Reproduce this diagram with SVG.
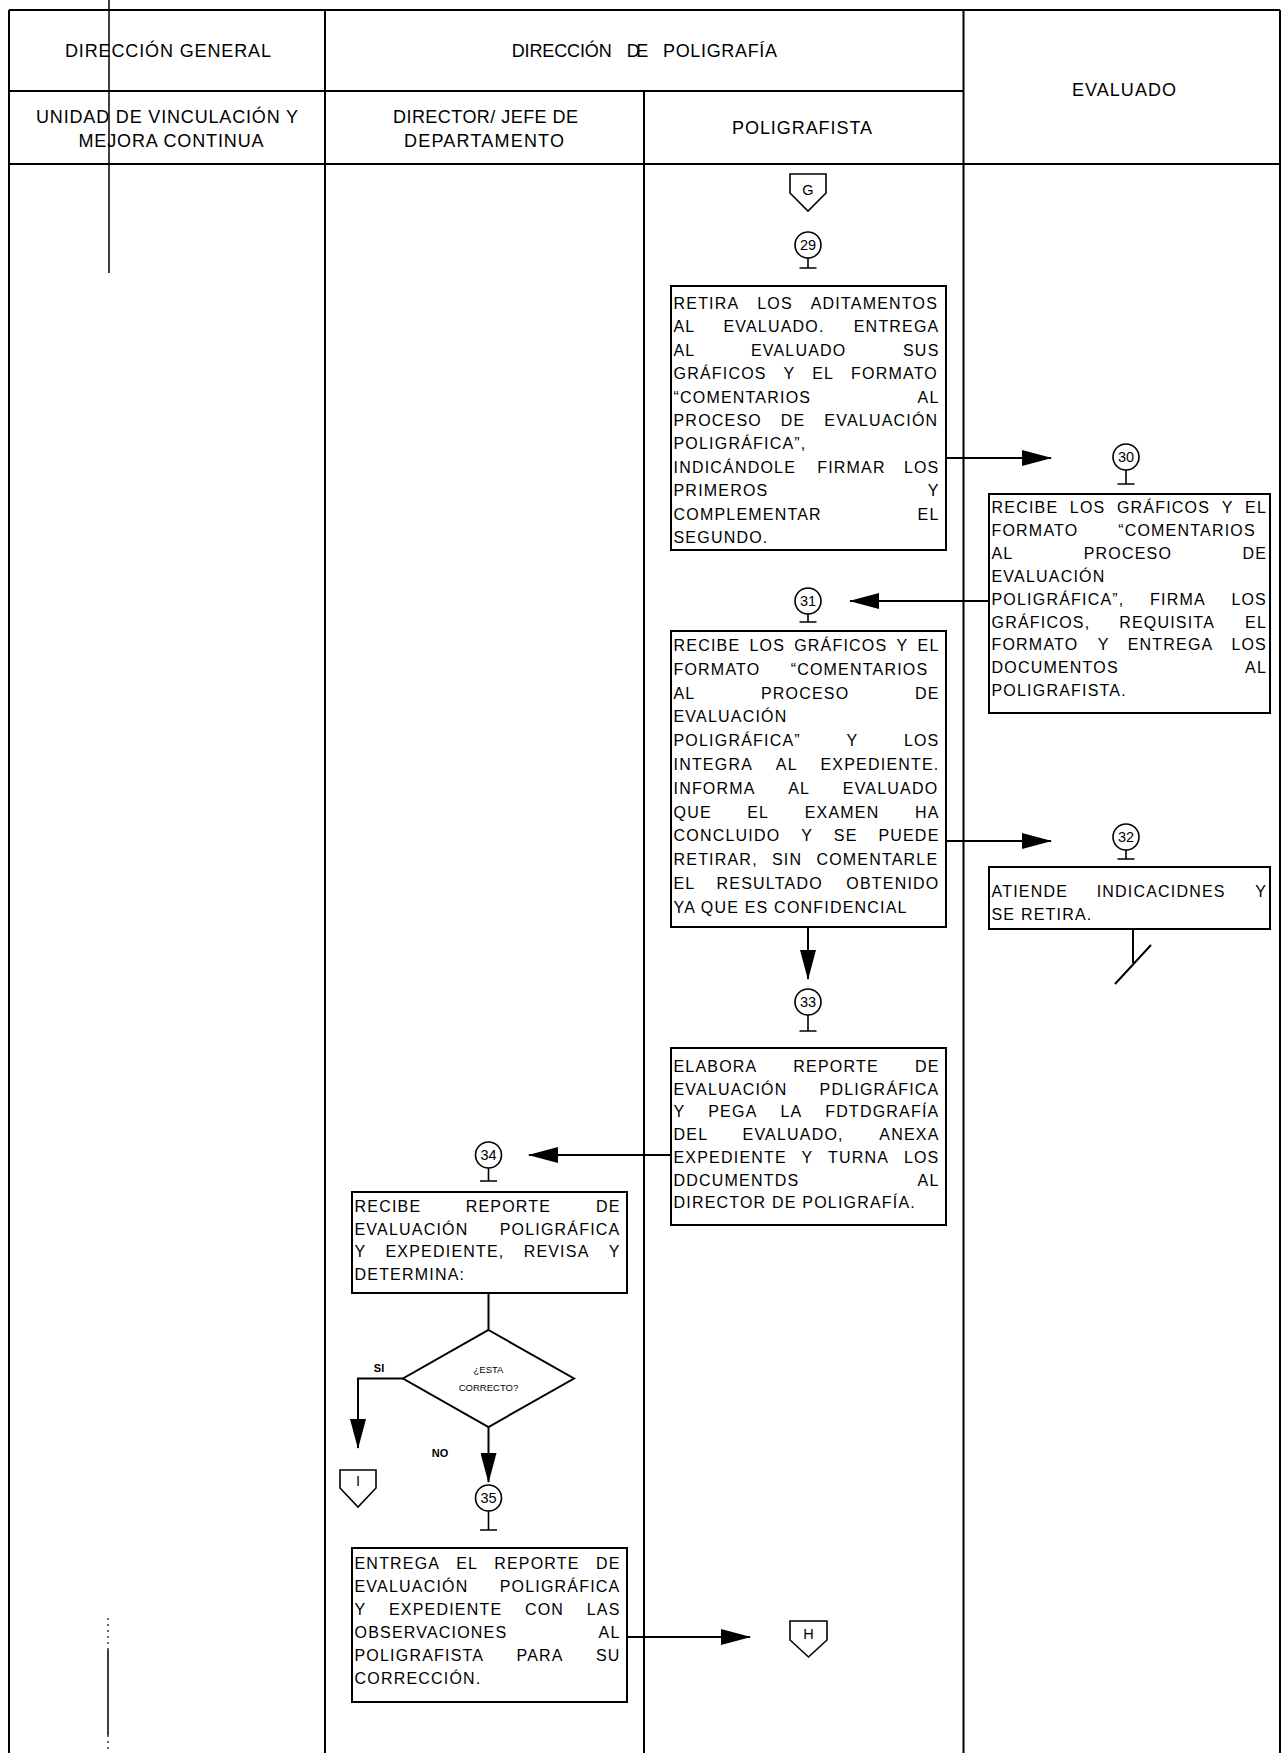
<svg xmlns="http://www.w3.org/2000/svg" width="1282" height="1753" viewBox="0 0 1282 1753">
<defs>
<marker id="ah" markerUnits="userSpaceOnUse" markerWidth="30" markerHeight="16" refX="29" refY="8" orient="auto"><path d="M0,0 L30,8 L0,16 Z" fill="#000"/></marker>
<style>
.t{font-family:'Liberation Sans',Arial,sans-serif;font-size:16px;letter-spacing:1.2px;fill:#000}
.h{font-family:'Liberation Sans',Arial,sans-serif;font-size:18px;fill:#000;text-anchor:middle}
.n{font-family:'Liberation Sans',Arial,sans-serif;font-size:14.5px;fill:#000;text-anchor:middle}
.s{font-family:'Liberation Sans',Arial,sans-serif;font-size:9.5px;fill:#000;text-anchor:middle}
.lb{font-family:'Liberation Sans',Arial,sans-serif;font-size:11px;font-weight:bold;fill:#000;text-anchor:middle}
.box{fill:#fff;stroke:#000;stroke-width:2}
.ln{stroke:#000;stroke-width:2;fill:none}
.thin{stroke:#000;stroke-width:1.6;fill:none}
.c{fill:#fff;stroke:#000;stroke-width:1.6}
</style>
</defs>
<rect x="0" y="0" width="1282" height="1753" fill="#fff"/>

<g id="grid" class="ln">
<line x1="9" y1="10" x2="1280" y2="10"/>
<line x1="9" y1="10" x2="9" y2="1753"/>
<line x1="1280" y1="10" x2="1280" y2="1753"/>
<line x1="9" y1="91" x2="963.5" y2="91"/>
<line x1="9" y1="164" x2="1280" y2="164"/>
<line x1="325" y1="10" x2="325" y2="1753"/>
<line x1="644" y1="91" x2="644" y2="1753"/>
<line x1="963.5" y1="10" x2="963.5" y2="1753"/>
</g>
<g id="stray" stroke="#000" fill="none">
<line x1="109" y1="0" x2="109" y2="273" stroke-width="1.5"/>
<line x1="108" y1="1618" x2="108" y2="1650" stroke-width="1.2" stroke-dasharray="2,4"/>
<line x1="108" y1="1650" x2="108" y2="1735" stroke-width="1.5"/>
<line x1="108" y1="1735" x2="108" y2="1753" stroke-width="1.2" stroke-dasharray="2,4"/>
</g>

<g id="header">
<text class="h" x="168" y="57" textLength="206" lengthAdjust="spacing">DIRECCIÓN GENERAL</text>
<text class="h" style="text-anchor:start" y="57"><tspan x="511.7" textLength="100">DIRECCIÓN</tspan><tspan x="626.7" textLength="21.6">DE</tspan><tspan x="663" textLength="114">POLIGRAFÍA</tspan></text>
<text class="h" x="1124" y="96" textLength="104" lengthAdjust="spacing">EVALUADO</text>
<text class="h" x="167" y="123" textLength="262" lengthAdjust="spacing">UNIDAD DE VINCULACIÓN Y</text>
<text class="h" x="171" y="147" textLength="185" lengthAdjust="spacing">MEJORA CONTINUA</text>
<text class="h" x="485.5" y="123" textLength="185" lengthAdjust="spacing">DIRECTOR/ JEFE DE</text>
<text class="h" x="484" y="147" textLength="160" lengthAdjust="spacing">DEPARTAMENTO</text>
<text class="h" x="802" y="134" textLength="140" lengthAdjust="spacing">POLIGRAFISTA</text>
</g>

<g id="connectors">
<path class="ln" d="M946,458 H1051" marker-end="url(#ah)"/>
<path class="ln" d="M989,601 H850" marker-end="url(#ah)"/>
<path class="ln" d="M946,841 H1051" marker-end="url(#ah)"/>
<path class="ln" d="M808,927 V979" marker-end="url(#ah)"/>
<path class="ln" d="M671,1155 H529" marker-end="url(#ah)"/>
<path class="ln" d="M488.5,1293 V1330"/>
<path class="ln" d="M403,1378.5 H358 V1448" marker-end="url(#ah)"/>
<path class="ln" d="M488.5,1427 V1482" marker-end="url(#ah)"/>
<path class="ln" d="M627,1637 H750" marker-end="url(#ah)"/>
<path class="ln" d="M1133,929 V963 M1151,945 L1115,984"/>
<text class="lb" x="379" y="1372">SI</text>
<text class="lb" x="440" y="1457">NO</text>
</g>

<g id="node-G">
<path class="c" d="M790,174 H826 V193 L808,211 L790,193 Z"/>
<text class="n" x="808" y="195">G</text>
</g>

<g id="node-29">
<circle class="c" cx="808" cy="245" r="13"/>
<path class="thin" d="M808,258 V268 M799.5,268 H816.5"/>
<text class="n" x="808" y="250">29</text>
<rect class="box" x="671" y="286" width="275" height="264"/>
<text class="t">
<tspan x="673.5" y="309">RETIRA</tspan><tspan x="757.24" y="309">LOS</tspan><tspan x="810.73" y="309">ADITAMENTOS</tspan>
<tspan x="673.5" y="332.4">AL</tspan><tspan x="723.43" y="332.4">EVALUADO.</tspan><tspan x="853.76" y="332.4">ENTREGA</tspan>
<tspan x="673.5" y="355.8">AL</tspan><tspan x="750.88" y="355.8">EVALUADO</tspan><tspan x="903.01" y="355.8">SUS</tspan>
<tspan x="673.5" y="379.2">GRÁFICOS</tspan><tspan x="783.53" y="379.2">Y</tspan><tspan x="812.26" y="379.2">EL</tspan><tspan x="851.09" y="379.2">FORMATO</tspan>
<tspan x="673.5" y="402.6">“COMENTARIOS</tspan><tspan x="917.53" y="402.6">AL</tspan>
<tspan x="673.5" y="426">PROCESO</tspan><tspan x="780.83" y="426">DE</tspan><tspan x="824.37" y="426">EVALUACIÓN</tspan>
<tspan x="673.5" y="449.4">POLIGRÁFICA”,</tspan>
<tspan x="673.5" y="472.8">INDICÁNDOLE</tspan><tspan x="817.2" y="472.8">FIRMAR</tspan><tspan x="903.88" y="472.8">LOS</tspan>
<tspan x="673.5" y="496.2">PRIMEROS</tspan><tspan x="927.63" y="496.2">Y</tspan>
<tspan x="673.5" y="519.6">COMPLEMENTAR</tspan><tspan x="917.53" y="519.6">EL</tspan>
<tspan x="673.5" y="543">SEGUNDO.</tspan>
</text>
</g>

<g id="node-30">
<circle class="c" cx="1126" cy="457" r="13"/>
<path class="thin" d="M1126,470 V484 M1117.5,484 H1134.5"/>
<text class="n" x="1126" y="462">30</text>
<rect class="box" x="989" y="494" width="281" height="219"/>
<text class="t">
<tspan x="991.5" y="513">RECIBE</tspan><tspan x="1069.79" y="513">LOS</tspan><tspan x="1116.94" y="513">GRÁFICOS</tspan><tspan x="1221.64" y="513">Y</tspan><tspan x="1245.03" y="513">EL</tspan>
<tspan x="991.5" y="535.9">FORMATO</tspan><tspan x="1118.15" y="535.9">“COMENTARIOS</tspan>
<tspan x="991.5" y="558.8">AL</tspan><tspan x="1083.72" y="558.8">PROCESO</tspan><tspan x="1242.38" y="558.8">DE</tspan>
<tspan x="991.5" y="581.7">EVALUACIÓN</tspan>
<tspan x="991.5" y="604.6">POLIGRÁFICA”,</tspan><tspan x="1150.04" y="604.6">FIRMA</tspan><tspan x="1231.38" y="604.6">LOS</tspan>
<tspan x="991.5" y="627.5">GRÁFICOS,</tspan><tspan x="1119.16" y="627.5">REQUISITA</tspan><tspan x="1245.03" y="627.5">EL</tspan>
<tspan x="991.5" y="650.4">FORMATO</tspan><tspan x="1097.86" y="650.4">Y</tspan><tspan x="1127.68" y="650.4">ENTREGA</tspan><tspan x="1231.38" y="650.4">LOS</tspan>
<tspan x="991.5" y="673.3">DOCUMENTOS</tspan><tspan x="1245.03" y="673.3">AL</tspan>
<tspan x="991.5" y="696.2">POLIGRAFISTA.</tspan>
</text>
</g>

<g id="node-31">
<circle class="c" cx="808" cy="601" r="13"/>
<path class="thin" d="M808,614 V622 M799.5,622 H816.5"/>
<text class="n" x="808" y="606">31</text>
<rect class="box" x="671" y="631" width="275" height="296"/>
<text class="t">
<tspan x="673.5" y="651">RECIBE</tspan><tspan x="749.41" y="651">LOS</tspan><tspan x="794.18" y="651">GRÁFICOS</tspan><tspan x="896.5" y="651">Y</tspan><tspan x="917.53" y="651">EL</tspan>
<tspan x="673.5" y="674.8">FORMATO</tspan><tspan x="790.65" y="674.8">“COMENTARIOS</tspan>
<tspan x="673.5" y="698.6">AL</tspan><tspan x="760.97" y="698.6">PROCESO</tspan><tspan x="914.88" y="698.6">DE</tspan>
<tspan x="673.5" y="722.4">EVALUACIÓN</tspan>
<tspan x="673.5" y="746.2">POLIGRÁFICA”</tspan><tspan x="846.42" y="746.2">Y</tspan><tspan x="903.88" y="746.2">LOS</tspan>
<tspan x="673.5" y="770">INTEGRA</tspan><tspan x="775.78" y="770">AL</tspan><tspan x="820.5" y="770">EXPEDIENTE.</tspan>
<tspan x="673.5" y="793.8">INFORMA</tspan><tspan x="788.24" y="793.8">AL</tspan><tspan x="842.77" y="793.8">EVALUADO</tspan>
<tspan x="673.5" y="817.6">QUE</tspan><tspan x="747.23" y="817.6">EL</tspan><tspan x="804.66" y="817.6">EXAMEN</tspan><tspan x="914.88" y="817.6">HA</tspan>
<tspan x="673.5" y="841.4">CONCLUIDO</tspan><tspan x="801.13" y="841.4">Y</tspan><tspan x="833.83" y="841.4">SE</tspan><tspan x="878.39" y="841.4">PUEDE</tspan>
<tspan x="673.5" y="865.2">RETIRAR,</tspan><tspan x="771.94" y="865.2">SIN</tspan><tspan x="816.38" y="865.2">COMENTARLE</tspan>
<tspan x="673.5" y="889">EL</tspan><tspan x="716.61" y="889">RESULTADO</tspan><tspan x="846.33" y="889">OBTENIDO</tspan>
<tspan x="673.5" y="912.8">YA QUE ES CONFIDENCIAL</tspan>
</text>
</g>

<g id="node-32">
<circle class="c" cx="1126" cy="837" r="13"/>
<path class="thin" d="M1126,850 V859 M1117.5,859 H1134.5"/>
<text class="n" x="1126" y="842">32</text>
<rect class="box" x="989" y="867" width="281" height="62"/>
<text class="t">
<tspan x="991.5" y="896.5">ATIENDE</tspan><tspan x="1096.66" y="896.5">INDICACIDNES</tspan><tspan x="1255.13" y="896.5">Y</tspan>
<tspan x="991.5" y="920">SE RETIRA.</tspan>
</text>
</g>

<g id="node-33">
<circle class="c" cx="808" cy="1002" r="13"/>
<path class="thin" d="M808,1015 V1031 M799.5,1031 H816.5"/>
<text class="n" x="808" y="1007">33</text>
<rect class="box" x="671" y="1048" width="275" height="177"/>
<text class="t">
<tspan x="673.5" y="1072">ELABORA</tspan><tspan x="793.31" y="1072">REPORTE</tspan><tspan x="914.88" y="1072">DE</tspan>
<tspan x="673.5" y="1094.7">EVALUACIÓN</tspan><tspan x="819.61" y="1094.7">PDLIGRÁFICA</tspan>
<tspan x="673.5" y="1117.4">Y</tspan><tspan x="708.26" y="1117.4">PEGA</tspan><tspan x="780.41" y="1117.4">LA</tspan><tspan x="825.27" y="1117.4">FDTDGRAFÍA</tspan>
<tspan x="673.5" y="1140.1">DEL</tspan><tspan x="742.56" y="1140.1">EVALUADO,</tspan><tspan x="879.27" y="1140.1">ANEXA</tspan>
<tspan x="673.5" y="1162.8">EXPEDIENTE</tspan><tspan x="801.54" y="1162.8">Y</tspan><tspan x="828.1" y="1162.8">TURNA</tspan><tspan x="903.88" y="1162.8">LOS</tspan>
<tspan x="673.5" y="1185.5">DDCUMENTDS</tspan><tspan x="917.53" y="1185.5">AL</tspan>
<tspan x="673.5" y="1208.2">DIRECTOR DE POLIGRAFÍA.</tspan>
</text>
</g>

<g id="node-34">
<circle class="c" cx="488.5" cy="1155" r="13"/>
<path class="thin" d="M488.5,1168 V1181 M480,1181 H497"/>
<text class="n" x="488.5" y="1160">34</text>
<rect class="box" x="352" y="1192" width="275" height="101"/>
<text class="t">
<tspan x="354.5" y="1212">RECIBE</tspan><tspan x="465.7" y="1212">REPORTE</tspan><tspan x="595.88" y="1212">DE</tspan>
<tspan x="354.5" y="1234.7">EVALUACIÓN</tspan><tspan x="499.71" y="1234.7">POLIGRÁFICA</tspan>
<tspan x="354.5" y="1257.4">Y</tspan><tspan x="385.5" y="1257.4">EXPEDIENTE,</tspan><tspan x="523.63" y="1257.4">REVISA</tspan><tspan x="608.63" y="1257.4">Y</tspan>
<tspan x="354.5" y="1280.1">DETERMINA:</tspan>
</text>
</g>

<g id="node-decision">
<path class="box" d="M488.5,1330 L574,1378.5 L488.5,1427 L403,1378.5 Z"/>
<text class="s" x="488.5" y="1373">¿ESTA</text>
<text class="s" x="488.5" y="1391">CORRECTO?</text>
</g>

<g id="node-I">
<path class="c" d="M340,1470 H376 V1488 L358,1507 L340,1488 Z"/>
<text class="n" x="358" y="1486">I</text>
</g>

<g id="node-35">
<circle class="c" cx="488.5" cy="1498" r="13"/>
<path class="thin" d="M488.5,1511 V1530 M480,1530 H497"/>
<text class="n" x="488.5" y="1503">35</text>
<rect class="box" x="352" y="1548" width="275" height="154"/>
<text class="t">
<tspan x="354.5" y="1569">ENTREGA</tspan><tspan x="456.22" y="1569">EL</tspan><tspan x="494.17" y="1569">REPORTE</tspan><tspan x="595.88" y="1569">DE</tspan>
<tspan x="354.5" y="1592">EVALUACIÓN</tspan><tspan x="499.71" y="1592">POLIGRÁFICA</tspan>
<tspan x="354.5" y="1615">Y</tspan><tspan x="388.97" y="1615">EXPEDIENTE</tspan><tspan x="524.92" y="1615">CON</tspan><tspan x="586.66" y="1615">LAS</tspan>
<tspan x="354.5" y="1638">OBSERVACIONES</tspan><tspan x="598.53" y="1638">AL</tspan>
<tspan x="354.5" y="1661">POLIGRAFISTA</tspan><tspan x="516.46" y="1661">PARA</tspan><tspan x="595.88" y="1661">SU</tspan>
<tspan x="354.5" y="1684">CORRECCIÓN.</tspan>
</text>
</g>

<g id="node-H">
<path class="c" d="M790,1621 H827 V1640 L808.5,1657 L790,1640 Z"/>
<text class="n" x="808.5" y="1639">H</text>
</g>
</svg>
